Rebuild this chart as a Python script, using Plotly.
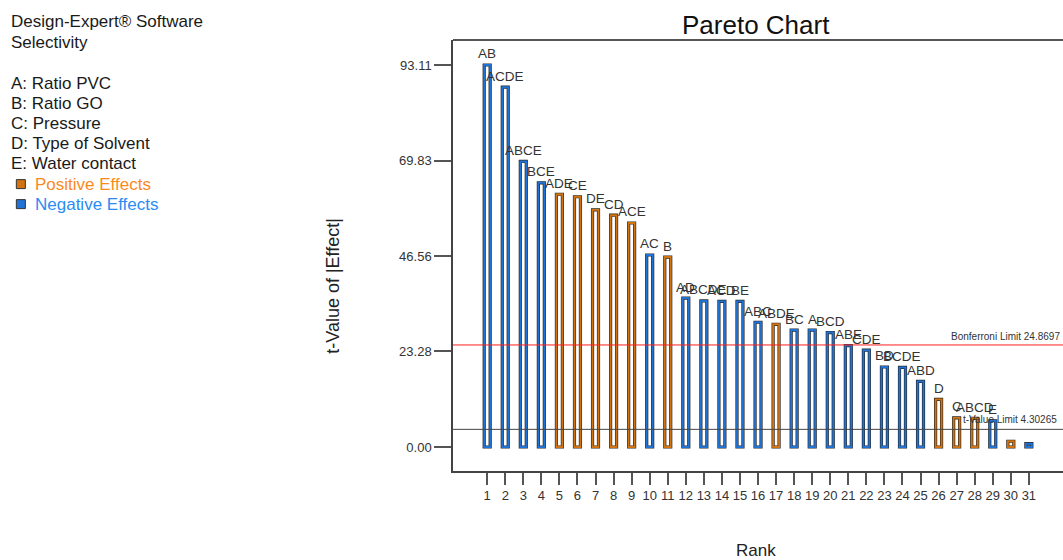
import plotly.graph_objects as go

# ---------------- data ----------------
ranks = list(range(1, 32))
terms = ["AB", "ACDE", "ABCE", "BCE", "ADE", "CE", "DE", "CD", "ACE", "AC", "B",
         "AD", "ABCDE", "ACD", "BE", "ABC", "ABDE", "BC", "A", "BCD", "ABE", "CDE",
         "BD", "BCDE", "ABD", "D", "C", "ABCD", "E", "", ""]
t_values = [93.11, 87.7, 69.6, 64.4, 61.6, 61.0, 57.8, 56.5, 54.6, 46.8, 46.3,
            36.3, 35.6, 35.5, 35.5, 30.4, 29.9, 28.5, 28.5, 27.9, 24.7, 23.6,
            19.5, 19.4, 16.0, 11.6, 7.1, 7.0, 6.4, 1.4, 0.8]
effect_sign = ["-", "-", "-", "-", "+", "+", "+", "+", "+", "-", "+",
               "-", "-", "-", "-", "-", "+", "-", "-", "-", "-", "-",
               "-", "-", "-", "+", "+", "+", "-", "+", "-"]
y_tick_values = [0.00, 23.28, 46.56, 69.83, 93.11]
y_tick_labels = ["0.00", "23.28", "46.56", "69.83", "93.11"]
bonferroni_limit = 24.8697
t_value_limit = 4.30265
header_lines = ["Design-Expert® Software", "Selectivity"]
factor_lines = ["A: Ratio PVC", "B: Ratio GO", "C: Pressure",
                "D: Type of Solvent", "E: Water contact"]
legend_lines = ["Positive Effects", "Negative Effects"]

# ---------------- style ----------------
W, H = 1063, 560
L, T, R = 452.5, 40, 0
B = H - 470.7
PW, PH = W - L - R, H - T - B
FONT = "Liberation Sans, Arial, sans-serif"
POS_EDGE, NEG_EDGE = "#d2730f", "#1f72d6"
POS_TEXT, NEG_TEXT = "#fb8a1e", "#2a8cf2"


def px(x):
    return (x - L) / PW


def py(y):
    return (H - B - y) / PH


edge_colors = [POS_EDGE if s == "+" else NEG_EDGE for s in effect_sign]

fig = go.Figure()
fig.add_trace(go.Bar(
    x=ranks, y=t_values, width=0.33,
    marker=dict(color="white", line=dict(color="#2a2a2a", width=3.2)),
    hoverinfo="skip", showlegend=False))
fig.add_trace(go.Bar(
    x=ranks, y=t_values, width=0.33, customdata=terms,
    marker=dict(color="rgba(0,0,0,0)", line=dict(color=edge_colors, width=1.9)),
    hoverinfo="skip", showlegend=False))

shapes = [
    dict(type="line", xref="paper", yref="paper", x0=0, x1=1, y0=1, y1=1,
         line=dict(color="#555555", width=2)),
    dict(type="line", xref="paper", yref="y", x0=0, x1=1,
         y0=bonferroni_limit, y1=bonferroni_limit,
         line=dict(color="#ff2020", width=1)),
    dict(type="line", xref="paper", yref="y", x0=0, x1=1,
         y0=t_value_limit, y1=t_value_limit,
         line=dict(color="#444444", width=1)),
]

annotations = []
# bar labels, anchored to each bar's data value
for r, v, term in zip(ranks, t_values, terms):
    if term:
        annotations.append(dict(text=term, x=r, y=v, xref="x", yref="y",
                                xanchor="center", yanchor="bottom", yshift=1.5,
                                showarrow=False,
                                font=dict(family=FONT, size=13.5, color="#333333")))

left_lines = [(header_lines[0], 22), (header_lines[1], 42.5)]
for i, txt in enumerate(factor_lines):
    left_lines.append((txt, 83 + 20.2 * i))
for txt, yy in left_lines:
    annotations.append(dict(text=txt, x=px(8), y=py(yy), xref="paper", yref="paper",
                            xanchor="left", yanchor="middle", showarrow=False,
                            font=dict(family=FONT, size=17, color="#1a1a1a")))
for txt, yy, col, sq in [(legend_lines[0], 184, POS_TEXT, POS_EDGE),
                         (legend_lines[1], 204, NEG_TEXT, NEG_EDGE)]:
    annotations.append(dict(text=txt, x=px(32), y=py(yy), xref="paper", yref="paper",
                            xanchor="left", yanchor="middle", showarrow=False,
                            font=dict(family=FONT, size=17, color=col)))
    shapes.append(dict(type="rect", xref="paper", yref="paper",
                       x0=px(15.5), x1=px(24.5), y0=py(yy - 4.5), y1=py(yy + 4.5),
                       fillcolor=sq, line=dict(color="#333333", width=1)))

annotations += [
    dict(text="Pareto Chart", x=px(756), y=py(25), xref="paper", yref="paper",
         xanchor="center", yanchor="middle", showarrow=False,
         font=dict(family=FONT, size=26, color="#111111")),
    dict(text="t-Value of |Effect|", x=px(333), y=py(286), xref="paper", yref="paper",
         xanchor="center", yanchor="middle", textangle=-90, showarrow=False,
         font=dict(family=FONT, size=18, color="#222222")),
    dict(text="Rank", x=px(756), y=py(550), xref="paper", yref="paper",
         xanchor="center", yanchor="middle", showarrow=False,
         font=dict(family=FONT, size=17, color="#222222")),
    dict(text=f"Bonferroni Limit {bonferroni_limit}", x=px(948.5), y=bonferroni_limit,
         xref="paper", yref="y", xanchor="left", yanchor="bottom", yshift=1,
         showarrow=False, font=dict(family=FONT, size=10, color="#333333")),
    dict(text=f"t-Value Limit {t_value_limit}", x=px(961), y=t_value_limit,
         xref="paper", yref="y", xanchor="left", yanchor="bottom", yshift=2,
         showarrow=False, font=dict(family=FONT, size=10, color="#333333")),
]

fig.update_layout(
    width=W, height=H,
    margin=dict(l=L, r=R, t=T, b=B, autoexpand=False),
    paper_bgcolor="white", plot_bgcolor="white",
    barmode="overlay", hovermode=False,
    font=dict(family=FONT, color="#333333"),
    shapes=shapes, annotations=annotations,
    xaxis=dict(range=[-0.893, 32.89], tickmode="array", tickvals=ranks,
               ticktext=[str(r) for r in ranks],
               ticks="outside", ticklen=12, tickwidth=1.5, tickcolor="#555555",
               showline=True, linecolor="#444444", linewidth=1.5,
               showgrid=False, zeroline=False,
               tickfont=dict(family=FONT, size=13, color="#333333")),
    yaxis=dict(range=[-5.85, 99.2], tickmode="array", tickvals=y_tick_values,
               ticktext=y_tick_labels,
               ticks="outside", ticklen=17, tickwidth=1.5, tickcolor="#555555",
               showline=True, linecolor="#444444", linewidth=1.5,
               showgrid=False, zeroline=False,
               tickfont=dict(family=FONT, size=13, color="#333333")),
)

# remove the page's default 8px body margin so the figure fills the window exactly
fig.write_html("out.html",
               config={"displayModeBar": False},
               post_script="document.body.style.margin='0';"
                           "document.documentElement.style.overflow='hidden';")
